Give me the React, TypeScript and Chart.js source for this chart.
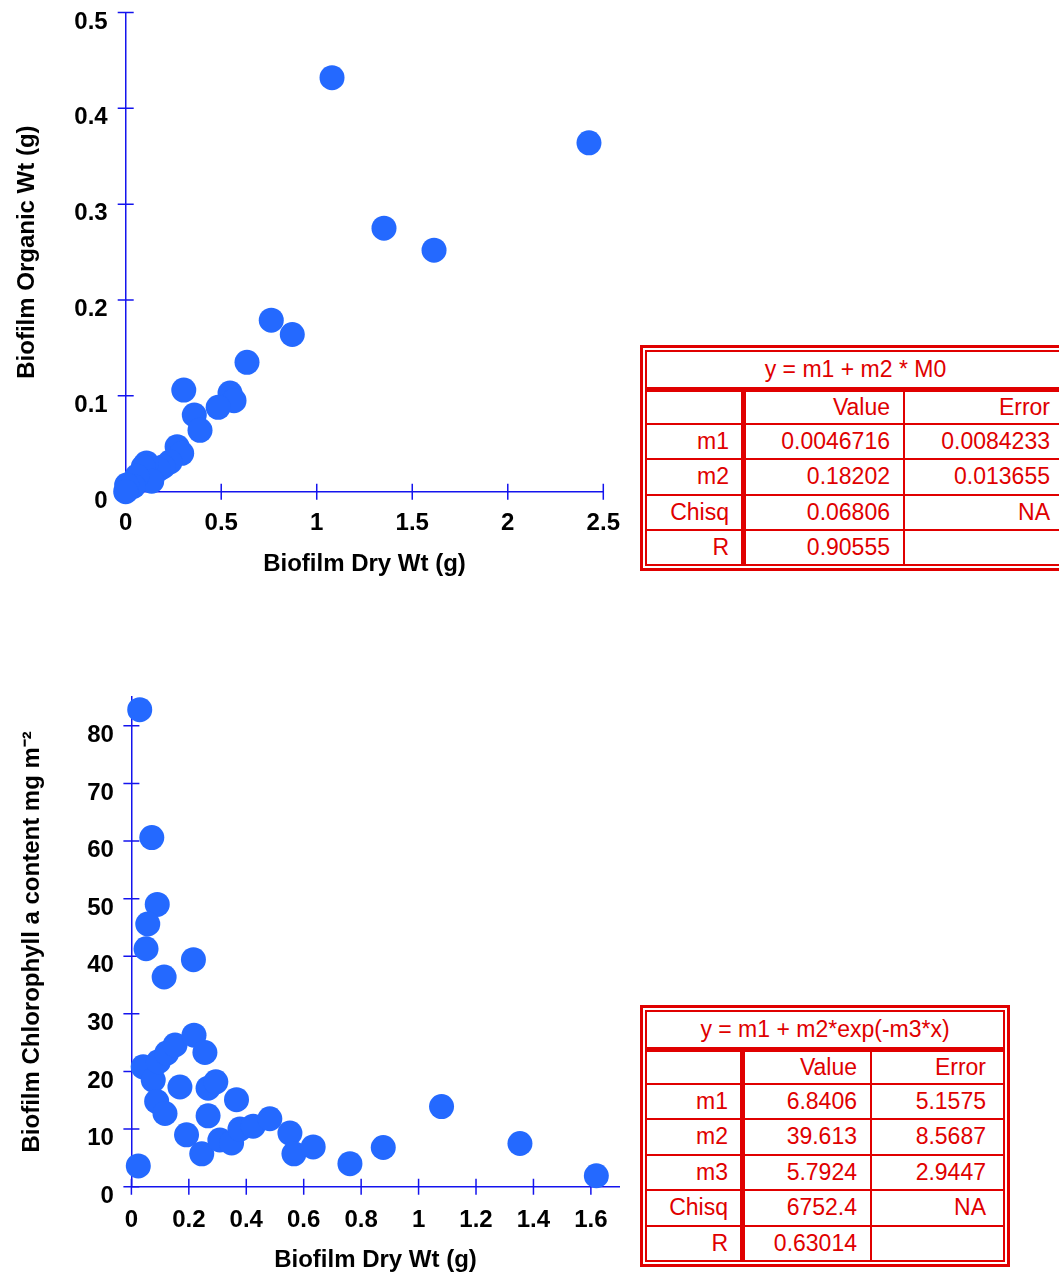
import React, { useEffect, useRef } from 'react';
import { Chart, registerables } from 'chart.js';

Chart.register(...registerables);

// ---------- Data ----------
// Top chart: Biofilm dry weight vs organic weight
const dryWtA = [1.080, 2.425, 1.352, 1.614, 0.762, 0.872, 0.635, 0.304, 0.546, 0.567, 0.484, 0.359, 0.389, 0.269, 0.293, 0.232, 0.196, 0.171, 0.109, 0.092, 0.136, 0.058, 0.040, 0.005, 0.0];
const organicWt = [0.432, 0.364, 0.275, 0.252, 0.179, 0.164, 0.135, 0.106, 0.103, 0.095, 0.088, 0.080, 0.064, 0.047, 0.040, 0.031, 0.026, 0.023, 0.030, 0.026, 0.011, 0.016, 0.0055, 0.007, 0.0];

// Bottom chart: Biofilm dry weight vs chlorophyll a content
const dryWtB = [0.029, 0.071, 0.090, 0.057, 0.051, 0.216, 0.114, 0.024, 0.041, 0.076, 0.094, 0.123, 0.152, 0.218, 0.256, 0.169, 0.088, 0.117, 0.267, 0.294, 0.366, 0.267, 0.192, 0.245, 0.308, 0.349, 0.378, 0.424, 0.482, 0.552, 0.566, 0.633, 0.761, 0.877, 1.080, 1.353, 1.619];
const chlorophyll = [82.8, 60.6, 49.0, 45.6, 41.3, 39.4, 36.4, 3.6, 20.8, 18.5, 21.7, 23.2, 24.6, 26.3, 23.3, 17.3, 14.8, 12.7, 17.1, 18.2, 15.1, 12.3, 9.0, 5.7, 8.1, 7.6, 10.0, 10.5, 11.8, 9.3, 5.7, 6.9, 4.0, 6.8, 13.9, 7.5, 1.9];

const xTicksA = [0, 0.5, 1, 1.5, 2, 2.5];
const yTicksA = [0, 0.1, 0.2, 0.3, 0.4, 0.5];
const xTicksB = [0, 0.2, 0.4, 0.6, 0.8, 1, 1.2, 1.4, 1.6];
const yTicksB = [0, 10, 20, 30, 40, 50, 60, 70, 80];

const xTitle = 'Biofilm Dry Wt (g)';
const yTitleA = 'Biofilm Organic Wt (g)';
const yTitleB = 'Biofilm Chlorophyll a content mg m\u207B\u00B2';

// Fit result tables
const fitEquationA = 'y = m1 + m2 * M0';
const fitHeader = ['', 'Value', 'Error'];
const fitRowsA = [
  ['m1', '0.0046716', '0.0084233'],
  ['m2', '0.18202', '0.013655'],
  ['Chisq', '0.06806', 'NA'],
  ['R', '0.90555', ''],
];
const fitEquationB = 'y = m1 + m2*exp(-m3*x)';
const fitRowsB = [
  ['m1', '6.8406', '5.1575'],
  ['m2', '39.613', '8.5687'],
  ['m3', '5.7924', '2.9447'],
  ['Chisq', '6752.4', 'NA'],
  ['R', '0.63014', ''],
];

// ---------- Styles ----------
const POINT = '#2469ff';
const AXIS = '#1414ee';
const RED = '#e00000';
const FONT = '"Liberation Sans", Arial, Helvetica, sans-serif';

const crossTicks = {
  id: 'crossTicks',
  beforeDatasetsDraw(chart: any) {
    const { ctx, chartArea, scales } = chart;
    ctx.save();
    ctx.strokeStyle = AXIS;
    ctx.lineWidth = 1.5;
    const xs = scales.x;
    const ys = scales.y;
    ctx.beginPath();
    xs.ticks.forEach((_t: any, i: number) => {
      const px = xs.getPixelForTick(i);
      ctx.moveTo(px, chartArea.bottom - 8);
      ctx.lineTo(px, chartArea.bottom + 8);
    });
    ys.ticks.forEach((_t: any, i: number) => {
      const py = ys.getPixelForTick(i);
      ctx.moveTo(chartArea.left - 8, py);
      ctx.lineTo(chartArea.left + 8, py);
    });
    ctx.stroke();
    ctx.restore();
  },
};

type ChartProps = {
  top: number;
  width: number;
  height: number;
  xs: number[];
  ys: number[];
  xMax: number;
  yMax: number;
  xTicks: number[];
  yTicks: number[];
  yTitle: string;
  padTop: number;
  padRight: number;
  yWidth: number;
  xHeight: number;
  xTickGap: number;
  yTickGap: number;
  xTitlePad: number;
  yTitlePad: number;
};

function ScatterChart(p: ChartProps) {
  const ref = useRef<HTMLCanvasElement | null>(null);
  useEffect(() => {
    if (!ref.current) return;
    const tickFont = { family: FONT, size: 24, weight: 'bold' as const, lineHeight: 1 };
    const chart = new Chart(ref.current, {
      type: 'scatter',
      data: {
        datasets: [
          {
            data: p.xs.map((x, i) => ({ x, y: p.ys[i] })),
            backgroundColor: POINT,
            borderWidth: 0,
            pointRadius: 12.5,
            pointHoverRadius: 12.5,
            clip: false as any,
          },
        ],
      },
      options: {
        responsive: false,
        animation: false,
        devicePixelRatio: 1,
        events: [],
        layout: { padding: { top: p.padTop, right: p.padRight, left: 0, bottom: 0 } },
        plugins: { legend: { display: false }, tooltip: { enabled: false } },
        scales: {
          x: {
            type: 'linear',
            min: 0,
            max: p.xMax,
            afterBuildTicks: (s: any) => {
              s.ticks = p.xTicks.map((v) => ({ value: v }));
            },
            afterFit: (s: any) => {
              s.height = p.xHeight;
            },
            grid: { display: true, drawOnChartArea: false, drawTicks: true, tickLength: p.xTickGap, color: 'rgba(0,0,0,0)' },
            border: { display: true, color: AXIS, width: 1.5 },
            ticks: {
              color: '#000',
              font: tickFont,
              padding: 0,
              maxRotation: 0,
              autoSkip: false,
              callback: (v: any) => String(v),
            },
            title: {
              display: true,
              text: xTitle,
              color: '#000',
              font: { family: FONT, size: 24, weight: 'bold', lineHeight: 1 },
              padding: { top: 0, bottom: p.xTitlePad },
            },
          },
          y: {
            type: 'linear',
            min: 0,
            max: p.yMax,
            afterBuildTicks: (s: any) => {
              s.ticks = p.yTicks.map((v) => ({ value: v }));
            },
            afterFit: (s: any) => {
              s.width = p.yWidth;
            },
            grid: { display: true, drawOnChartArea: false, drawTicks: true, tickLength: p.yTickGap, color: 'rgba(0,0,0,0)' },
            border: { display: true, color: AXIS, width: 1.5 },
            ticks: {
              color: '#000',
              font: tickFont,
              padding: 0,
              labelOffset: 9.5,
              autoSkip: false,
              callback: (v: any) => String(v),
            },
            title: {
              display: true,
              text: p.yTitle,
              color: '#000',
              font: { family: FONT, size: 24, weight: 'bold', lineHeight: 1 },
              padding: { top: p.yTitlePad, bottom: 0 },
            },
          },
        },
      } as any,
      plugins: [crossTicks],
    });
    return () => chart.destroy();
  }, []);
  return (
    <canvas
      ref={ref}
      width={p.width}
      height={p.height}
      style={{ position: 'absolute', left: 0, top: p.top, width: p.width, height: p.height, display: 'block' }}
    />
  );
}

type TableProps = {
  left: number;
  top: number;
  equation: string;
  rows: string[][];
  colWidths: number[];
  padRight: number[];
};

function FitTable({ left, top, equation, rows, colWidths, padRight }: TableProps) {
  const all = [fitHeader, ...rows];
  const last = all.length - 1;
  return (
    <div
      style={{
        position: 'absolute',
        left,
        top,
        border: `3px solid ${RED}`,
        padding: 2,
        background: '#fff',
      }}
    >
      <div
        style={{
          border: `2px solid ${RED}`,
          display: 'grid',
          gridTemplateColumns: colWidths.map((w) => `${w}px`).join(' '),
          color: RED,
          fontSize: 23,
          fontFamily: FONT,
        }}
      >
        <div
          style={{
            gridColumn: '1 / 4',
            height: 40,
            boxSizing: 'border-box',
            borderBottom: `5px solid ${RED}`,
            display: 'flex',
            alignItems: 'center',
            justifyContent: 'center',
            whiteSpace: 'nowrap',
          }}
        >
          {equation}
        </div>
        {all.map((r, ri) =>
          r.map((c, ci) => (
            <div
              key={`${ri}-${ci}`}
              style={{
                height: ri === 0 ? 32.5 : ri === last ? 33 : 35.5,
                boxSizing: 'border-box',
                borderBottom: ri === last ? 'none' : `2px solid ${RED}`,
                borderRight: ci === 0 ? `5px solid ${RED}` : ci === 1 ? `2px solid ${RED}` : 'none',
                display: 'flex',
                alignItems: 'center',
                justifyContent: 'flex-end',
                paddingRight: padRight[ci],
                whiteSpace: 'nowrap',
              }}
            >
              {c}
            </div>
          ))
        )}
      </div>
    </div>
  );
}

export default function App() {
  return (
    <div
      style={{
        position: 'absolute',
        left: 0,
        top: 0,
        width: 1059,
        height: 1272,
        overflow: 'hidden',
        background: '#fff',
      }}
    >
      <ScatterChart
        top={0}
        width={640}
        height={590}
        xs={dryWtA}
        ys={organicWt}
        xMax={2.5}
        yMax={0.5}
        xTicks={xTicksA}
        yTicks={yTicksA}
        yTitle={yTitleA}
        padTop={12.3}
        padRight={36.7}
        yWidth={125.7}
        xHeight={98.3}
        xTickGap={20}
        yTickGap={18}
        xTitlePad={13.5}
        yTitlePad={15.5}
      />
      <ScatterChart
        top={680}
        width={640}
        height={592}
        xs={dryWtB}
        ys={chlorophyll}
        xMax={1.7}
        yMax={85}
        xTicks={xTicksB}
        yTicks={yTicksB}
        yTitle={yTitleB}
        padTop={17}
        padRight={20.4}
        yWidth={131.4}
        xHeight={85.3}
        xTickGap={22}
        yTickGap={17.5}
        xTitlePad={0}
        yTitlePad={20.5}
      />
      <FitTable
        left={640}
        top={345}
        equation={fitEquationA}
        rows={fitRowsA}
        colWidths={[99, 159, 159]}
        padRight={[12, 13, 14]}
      />
      <FitTable
        left={640}
        top={1005}
        equation={fitEquationB}
        rows={fitRowsB}
        colWidths={[98, 127, 131]}
        padRight={[12, 13, 17]}
      />
    </div>
  );
}
